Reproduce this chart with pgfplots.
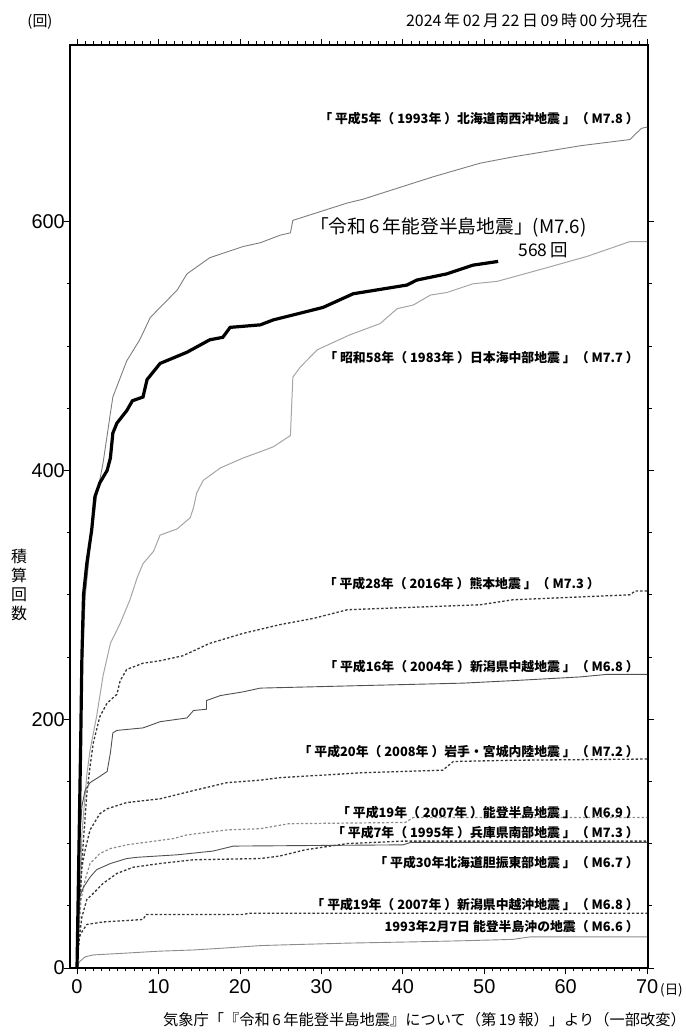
\documentclass[border=0pt]{standalone}
\usepackage{fontspec}
\setmainfont{Noto Sans CJK JP}
\newfontfamily\arial{Liberation Sans}
\usepackage{pgfplots}
\pgfplotsset{compat=1.18}
\definecolor{gA}{RGB}{125,125,125}
\definecolor{gB}{RGB}{165,165,165}
\definecolor{gC}{RGB}{80,80,80}
\definecolor{gD}{RGB}{55,55,55}
\definecolor{gE}{RGB}{140,140,140}
\begin{document}
\begin{tikzpicture}[x=1bp,y=1bp]
\path[use as bounding box] (0,0) rectangle (686,1032);
\begin{axis}[
 at={(70bp,64bp)}, anchor=south west,
 scale only axis, width=578bp, height=923bp,
 xmin=-0.86, xmax=70.1, ymin=0, ymax=742,
 xtick={0,10,...,70}, minor x tick num=9,
 ytick={0,200,400,600}, minor y tick num=3,
 tick align=outside, xtick pos=both, ytick pos=both,
 xticklabel pos=lower, yticklabel pos=left,
 major tick length=6bp, minor tick length=3.5bp,
 axis line style={line width=1.6bp},
 every tick/.style={line width=0.8bp, black},
 tick label style={font=\arial\fontsize{20}{20}\selectfont, inner sep=1bp},
 xticklabel style={yshift=-4bp},
 yticklabel style={xshift=2bp},
 /pgf/number format/assume math mode=true,
 clip mode=individual,
]
% 1993 Hokkaido-nansei-oki
\addplot[gA, line width=0.9bp] coordinates {(0,0)(0.1,60)(0.3,150)(0.6,230)(1.0,298)(1.6,338)(2.4,379)(3.2,406)(4.1,446)(4.4,459)(6.1,488)(7.7,505)(9.0,523)(12.3,545)(13.5,558)(16.3,571)(20.4,580)(22.5,583)(24.9,589)(26.2,591)(26.5,601)(33.2,615)(35.1,618)(43.7,636)(49.5,647)(53.5,652)(61.8,661)(67.9,666)(68.5,670)(69.3,675)(70,676)};
% 1983 Nihonkai-chubu
\addplot[gB, line width=1bp] coordinates {(0,0)(0.2,30)(0.4,60)(0.6,108)(1.2,155)(1.6,175)(2.4,202)(3.2,235)(4.1,261)(5.3,277)(6.5,296)(7.4,314)(8.1,325)(9.4,335)(10.2,348)(12.3,353)(13.9,362)(14.3,370)(14.7,382)(15.5,392)(17.6,402)(20.4,410)(22.5,415)(24.1,419)(26.2,428)(26.5,475)(27.4,483)(29.5,497)(33.5,509)(37.2,518)(39.3,530)(41.3,533)(43.4,541)(45.4,543)(48.6,550)(51.6,552)(57.7,563)(62.6,572)(67.9,584)(70,584)};
% 2016 Kumamoto
\addplot[gD, line width=1.3bp, dash pattern=on 2.5bp off 2bp] coordinates {(0,0)(0.3,40)(0.6,85)(1.2,140)(1.6,162)(2.0,181)(2.8,202)(3.7,213)(4.9,220)(5.3,231)(6.1,240)(8.1,245)(10.2,247)(13.0,251)(16.3,261)(20.4,269)(24.9,276)(29.0,281)(33.2,288)(37.2,289)(49.5,292)(53.5,296)(67.9,300)(68.5,303)(70,303)};
% 2004 Chuetsu
\addplot[gC, line width=0.9bp] coordinates {(0,0)(0.1,50)(0.3,100)(0.6,130)(1.0,143)(1.6,149)(2.8,154)(3.7,158)(4.1,173)(4.4,189)(4.9,191)(8.1,193)(10.2,198)(13.5,201)(14.3,207)(15.9,208)(15.9,215)(17.6,219)(20.4,222)(22.5,225)(34.8,227)(47.4,229)(53.5,231)(61.8,234)(65,236)(70,236)};
% 2008 Iwate-Miyagi
\addplot[gD, line width=1.3bp, dash pattern=on 2.5bp off 2bp] coordinates {(0,0)(0.2,40)(0.6,81)(1.0,95)(1.6,111)(2.8,124)(3.7,128)(6.1,133)(10.2,136)(13.9,142)(18.4,149)(22.5,151)(24.9,153)(35.1,157)(44.9,159)(46.2,166)(53.5,167)(70,168)};
% 2007 Noto
\addplot[gE, line width=1.2bp, dash pattern=on 2.5bp off 2bp] coordinates {(0,0)(0.2,30)(0.5,55)(1.0,71)(1.6,84)(2.8,92)(4.1,96)(6.1,99)(11.8,104)(13.5,107)(18.4,111)(22.5,112)(26,116)(40.3,117)(41.3,121)(70,121)};
% 1995 Hyogo
\addplot[gD, line width=1.3bp, dash pattern=on 2.5bp off 2bp] coordinates {(0,0)(0.2,20)(0.6,41)(1.2,55)(2.0,60)(3.2,68)(4.9,76)(6.9,81)(10.2,84)(14.3,87)(22.5,88)(24.9,90)(28,95)(33.2,100)(40,102)(70,102)};
% 2018 Iburi
\addplot[gC, line width=0.9bp] coordinates {(0,0)(0.1,40)(0.3,57)(0.8,65)(1.6,73)(2.4,79)(4.1,84)(6.1,88)(7.4,89)(12.3,91)(16.7,94)(19.2,98)(40,99)(41,101)(70,101)};
% 2007 Chuetsu-oki
\addplot[gD, line width=1.3bp, dash pattern=on 2.5bp off 2bp] coordinates {(0,0)(0.3,25)(0.6,29)(1.2,35)(3.2,37)(8.1,39)(8.5,43)(20.5,43)(21,44)(70,44)};
% 1993 Noto-oki
\addplot[gE, line width=0.9bp] coordinates {(0,0)(0.3,5)(1.0,9)(2.0,10.5)(6.1,12)(10,13.5)(14.3,14.5)(18,16)(22.5,18)(24.9,18.5)(33.2,20)(41.3,21)(48,22)(53.5,23)(55.6,25)(70,25)};
% 2024 Noto
\addplot[black, line width=3.2bp] coordinates {(0,0)(0.05,20)(0.15,60)(0.3,120)(0.45,180)(0.6,250)(0.8,300)(1.2,325)(1.8,352)(2.2,379)(2.8,390)(3.7,400)(4.1,410)(4.4,430)(4.9,438)(6.1,448)(6.8,456)(8.1,459)(8.6,473)(10.2,486)(13.5,495)(16.3,505)(17.9,507)(18.8,515)(22.5,517)(24.1,521)(30.2,531)(33.9,542)(40.5,549)(41.7,553)(45.4,558)(48.6,565)(51.7,568)};

\begin{scope}[every node/.style={font=\bfseries\fontsize{12.9}{13}\selectfont, anchor=east, inner sep=0pt}]
\node at (axis cs:69.0,683) {「 平成5年（ 1993年 ）北海道南西沖地震 」（ M7.8 ）};
\node at (axis cs:69.0,491) {「 昭和58年（ 1983年 ）日本海中部地震 」（ M7.7 ）};
\node at (axis cs:64.2,309) {「 平成28年（ 2016年 ）熊本地震 」（ M7.3 ）};
\node at (axis cs:69.0,242) {「 平成16年（ 2004年 ）新潟県中越地震 」（ M6.8 ）};
\node at (axis cs:69.0,174) {「 平成20年（ 2008年 ）岩手・宮城内陸地震 」（ M7.2 ）};
\node at (axis cs:69.0,125) {「 平成19年（ 2007年 ）能登半島地震 」（ M6.9 ）};
\node at (axis cs:69.0,108.5) {「 平成7年（ 1995年 ）兵庫県南部地震 」（ M7.3 ）};
\node at (axis cs:69.0,84.4) {「 平成30年北海道胆振東部地震 」（ M6.7 ）};
\node at (axis cs:69.0,50.6) {「 平成19年（ 2007年 ）新潟県中越沖地震 」（ M6.8 ）};
\node at (axis cs:69.0,33) {1993年2月7日 能登半島沖の地震（ M6.6 ）};
\end{scope}
\node[anchor=west, inner sep=0pt, font=\fontsize{18.8}{19}\selectfont] at (axis cs:28.6,595) {「令和\,6\,年能登半島地震」(M7.6)};
\node[anchor=east, inner sep=0pt, font=\fontsize{17.5}{18}\selectfont] at (axis cs:60.3,577) {568\,回};
\end{axis}
\node[anchor=center, inner sep=0pt, font=\fontsize{15}{15}\selectfont] at (40,1010) {(回)};
\node[anchor=east, inner sep=0pt, font=\fontsize{16}{16}\selectfont] at (648,1012) {2024\,年\,02\,月\,22\,日\,09\,時\,00\,分現在};
\node[anchor=center, align=center, inner sep=0pt, font=\fontsize{16}{19}\selectfont] at (19,447) {積\\算\\回\\数};
\node[anchor=west, inner sep=0pt, font=\fontsize{13.5}{14}\selectfont] at (660,42) {(日)};
\node[anchor=east, inner sep=0pt, font=\fontsize{15.3}{16}\selectfont] at (686,12) {気象庁「『令和\,6\,年能登半島地震』について（第\,19\,報）」より（一部改変）};
\end{tikzpicture}
\end{document}
